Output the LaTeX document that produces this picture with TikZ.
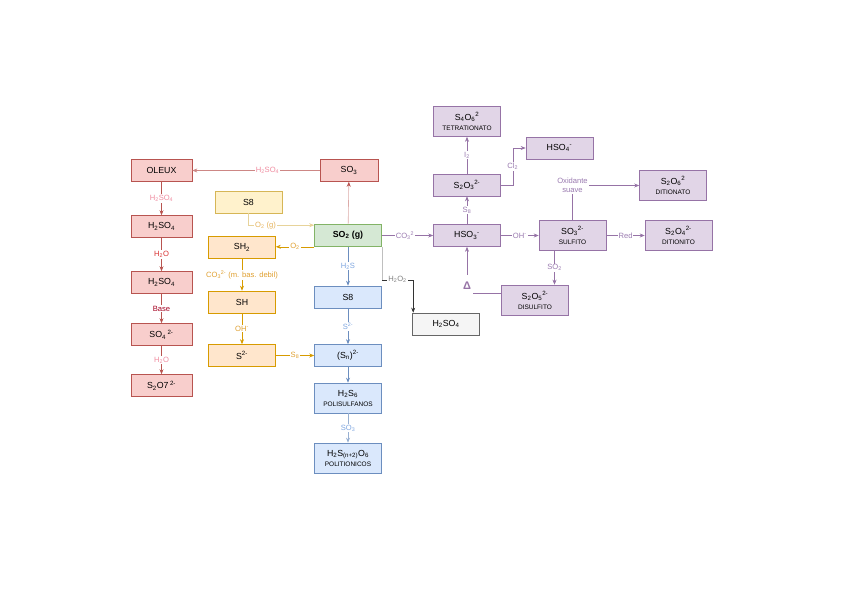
\documentclass[tikz,border=0pt]{standalone}
\usepackage{fontspec}
\setmainfont{Liberation Sans}
\usetikzlibrary{arrows.meta, calc, positioning}
\definecolor{redfill}{HTML}{F8CECC}
\definecolor{redline}{HTML}{B85450}
\definecolor{yelfill}{HTML}{FFF2CC}
\definecolor{yelline}{HTML}{D6B656}
\definecolor{orfill} {HTML}{FFE6CC}
\definecolor{orline} {HTML}{D79B00}
\definecolor{grfill} {HTML}{D5E8D4}
\definecolor{grline} {HTML}{82B366}
\definecolor{blfill} {HTML}{DAE8FC}
\definecolor{blline} {HTML}{6C8EBF}
\definecolor{pufill} {HTML}{E1D5E7}
\definecolor{puline} {HTML}{9673A6}
\definecolor{gyfill} {HTML}{F5F5F5}
\definecolor{gyline} {HTML}{666666}
\definecolor{rosetext}{HTML}{F08CA0}
\definecolor{redtext}{HTML}{D93030}
\definecolor{basetext}{HTML}{A50021}
\definecolor{ortext}{HTML}{E0A030}
\definecolor{bltext}{HTML}{7EA6E0}
\definecolor{putext}{HTML}{9A7AB0}
\newcommand{\ssub}[1]{\textsubscript{#1}}
\newcommand{\ssup}[1]{\textsuperscript{#1}}
\newcommand{\nm}[1]{{\fontsize{6.5}{7.5}\selectfont #1}}

\begin{document}
\begin{tikzpicture}[x=1pt, y=-1pt,
  box/.style={rectangle, minimum width=67pt, minimum height=22pt,
    inner sep=1pt, align=center, font=\fontsize{8.8}{10}\selectfont,
    line width=0.6pt},
  two/.style={minimum height=30pt, font=\fontsize{8.8}{10}\selectfont},
  redbox/.style={box, fill=redfill, draw=redline},
  ybox/.style={box, fill=yelfill, draw=yelline},
  obox/.style={box, fill=orfill, draw=orline},
  gbox/.style={box, fill=grfill, draw=grline},
  bbox/.style={box, fill=blfill, draw=blline},
  pbox/.style={box, fill=pufill, draw=puline},
  gybox/.style={box, fill=gyfill, draw=gyline},
  lbl/.style={fill=white, inner sep=1pt, font=\fontsize{7.6}{8.5}\selectfont},
  farr/.style={-{Stealth[length=5pt,width=4pt]}, line width=0.6pt},
]
\useasboundingbox (0,0) rectangle (848,599);
%% Oleum column
\node[redbox, minimum width=61pt] (oleux)   at (161.5,170.5) {OLEUX};
\node[redbox, minimum width=61pt] (acid1)   at (161.5,226.5) {H\ssub{2}SO\ssub{4}};
\node[redbox, minimum width=61pt] (acid2)   at (161.5,282.5) {H\ssub{2}SO\ssub{4}};
\node[redbox, minimum width=61pt] (sulfate) at (161.5,334.5) {SO\ssub{4}\,\ssup{2-}};
\node[redbox, minimum width=61pt] (pyro)    at (161.5,385.5) {S\ssub{2}O7\,\ssup{2-}};
\node[redbox, minimum width=58pt] (so3)     at (349,170.5)   {SO\ssub{3}};
%% Sulfide column
\node[ybox] (s8y) at (248.5,202)   {S8};
\node[obox] (sh2) at (242,247.5)   {SH\ssub{2}};
\node[obox] (sh)  at (242,302)     {SH};
\node[obox] (sm)  at (242,355.5)   {S\ssup{2-}};
%% SO2 and reduction chain
\node[gbox] (so2) at (348,235.5) {\textbf{SO\ssub{2} (g)}};
\node[bbox] (s8b) at (348,297)   {S8};
\node[bbox] (sn)  at (348,355.5) {(S\ssub{n})\ssup{2-}};
\node[bbox, two] (sane)  at (348,398) {H\ssub{2}S\ssub{6}\\\nm{POLISULFANOS}};
\node[bbox, two] (thion) at (348,458) {H\ssub{2}S\ssub{(n+2)}O\ssub{6}\\\nm{POLITIONICOS}};
\node[gybox] (acid3) at (446,324) {H\ssub{2}SO\ssub{4}};
%% Oxoanions
\node[pbox] (hso3)  at (467,235.5) {HSO\ssub{3}\ssup{-}};
\node[pbox] (thio)  at (467,185)   {S\ssub{2}O\ssub{3}\ssup{2-}};
\node[pbox, two] (tetra) at (467,121.5) {S\ssub{4}O\ssub{6}\ssup{2}\\\nm{TETRATIONATO}};
\node[pbox] (hso4)  at (559.5,148) {HSO\ssub{4}\ssup{-}};
\node[pbox, two] (sulfito)   at (572.5,235.5) {SO\ssub{3}\ssup{2-}\\\nm{SULFITO}};
\node[pbox, two] (ditionato) at (673,185.5)   {S\ssub{2}O\ssub{6}\ssup{2}\\\nm{DITIONATO}};
\node[pbox, two] (ditionito) at (678.5,235.5) {S\ssub{2}O\ssub{4}\ssup{2-}\\\nm{DITIONITO}};
\node[pbox, two] (disulfito) at (535,300)     {S\ssub{2}O\ssub{5}\ssup{2-}\\\nm{DISULFITO}};
%% Oleum arrows
\draw[farr, redline!70] (so3) -- node[lbl, pos=0.41, text=rosetext] {H\ssub{2}SO\ssub{4}} (oleux);
\draw[farr, redline] (oleux) -- node[lbl, text=rosetext] {H\ssub{2}SO\ssub{4}} (acid1);
\draw[farr, redline] (acid1) -- node[lbl, text=redtext] {H\ssub{2}O} (acid2);
\draw[farr, redline] (acid2) -- node[lbl, text=basetext] {Base} (sulfate);
\draw[farr, redline] (sulfate) -- node[lbl, text=rosetext] {H\ssub{2}O} (pyro);
\draw[-{Stealth[length=5pt,width=4pt,color=redline]}, line width=0.6pt, redline!50]
  (so2) -- (so3);
%% Sulfide arrows
\draw[farr, yelline!60] (s8y.south) |- node[lbl, pos=0.63, text=ortext!80] {O\ssub{2} (g)}
  ([yshift=-1pt]so2.north west);
\draw[farr, orline] (so2.south west) -- node[lbl, text=ortext] {O\ssub{2}}
  (so2.south west -| sh2.east);
\draw[farr, orline] (sh2) -- node[lbl, text=ortext] {CO\ssub{3}\ssup{2-} (m. bas. debil)} (sh);
\draw[farr, orline] (sh) -- node[lbl, text=ortext] {OH\ssup{-}} (sm);
\draw[farr, orline] (sm) -- node[lbl, text=ortext] {S\ssub{8}} (sn);
%% Reduction chain
\draw[farr, blline] (so2) -- node[lbl, text=bltext] {H\ssub{2}S} (s8b);
\draw[farr, blline] (s8b) -- node[lbl, text=bltext] {S\ssup{2-}} (sn);
\draw[farr, blline] (sn) -- (sane);
\draw[farr, blline!70] (sane) -- node[lbl, text=bltext] {SO\ssub{3}} (thion);
\draw[line width=0.6pt, gray!50] (so2.south east) -- ++(0,33) coordinate (bend);
\draw[farr, black!80] (bend)
  -| node[lbl, pos=0.25, text=gray] {H\ssub{2}O\ssub{2}} ([xshift=1pt]acid3.north west);
%% Oxoanion arrows
\draw[farr, puline] (so2) -- node[lbl, pos=0.45, text=putext] {CO\ssub{3}\ssup{2}} (hso3);
\draw[farr, puline] (hso3) -- node[lbl, text=putext] {S\ssub{8}} (thio);
\draw[farr, puline] (thio) -- node[lbl, text=putext] {I\ssub{2}} (tetra);
\draw[farr, puline] (thio.east) -- ++(12,0) |- node[lbl, pos=0.25, text=putext] {Cl\ssub{2}} (hso4.west);
\draw[farr, puline] (hso3) -- node[lbl, text=putext] {OH\ssup{-}} (sulfito);
\draw[farr, puline] (sulfito.north) |- node[lbl, align=center, text=putext] {Oxidante\\suave} (ditionato.west);
\draw[farr, puline] (sulfito) -- node[lbl, text=putext] {Red} (ditionito);
\draw[farr, puline] ([xshift=-18pt]sulfito.south)
  -- node[lbl, text=putext] {SO\ssub{2}} ([xshift=-18pt]sulfito.south |- disulfito.north);
\draw[farr, puline] ([yshift=7pt]disulfito.west)
  -| node[lbl, yshift=7pt, minimum height=22pt, minimum width=12pt, text=puline,
     font=\fontsize{11}{12}\selectfont\bfseries] {Δ} (hso3.south);
\end{tikzpicture}
\end{document}
